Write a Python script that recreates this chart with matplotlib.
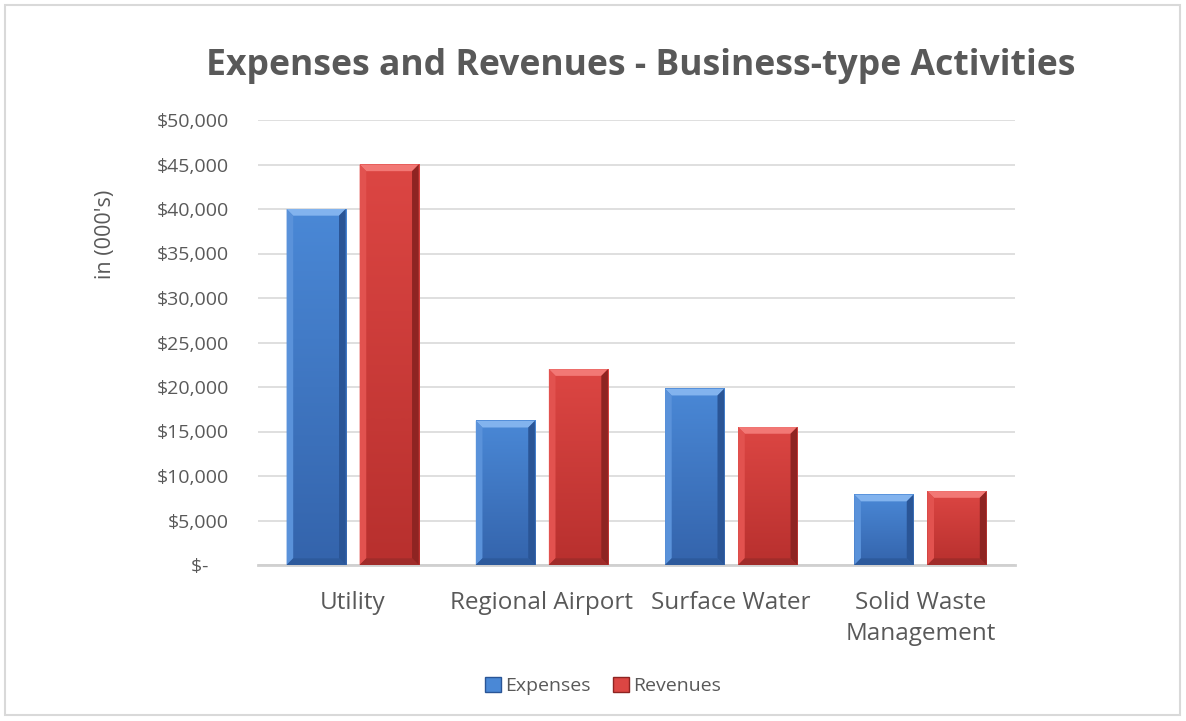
import numpy as np
import matplotlib
import matplotlib.pyplot as plt
from matplotlib.patches import Polygon, Rectangle, Patch
from matplotlib.colors import LinearSegmentedColormap
from matplotlib.ticker import FuncFormatter
matplotlib.use('Agg')

plt.rcParams['font.family'] = ['Open Sans', 'DejaVu Sans']

categories = ['Utility', 'Regional Airport', 'Surface Water', 'Solid Waste\nManagement']
expenses = [40000, 16200, 19800, 7900]
revenues = [45000, 22000, 15500, 8300]
y_ticks = [0, 5000, 10000, 15000, 20000, 25000, 30000, 35000, 40000, 45000, 50000]

TEXT = '#595959'
# face top, face bottom, top bevel, left bevel, right bevel, bottom bevel
BLUE = ['#4A88D6', '#3464AC', '#82B3EE', '#5A92DA', '#2A5596', '#2D5A9C']
RED = ['#DC4643', '#B8302E', '#F27875', '#E2524F', '#8E2422', '#A02C2A']


def money(v, pos):
    if v == 0:
        return '$-    '
    return '${:,.0f}'.format(v)


def bevel(ax, bar, shades, bx=0.035, by=750):
    x0, y0 = bar.get_x(), bar.get_y()
    x1, y1 = x0 + bar.get_width(), y0 + bar.get_height()
    ftop, fbot, top, left, right, bottom = shades
    bar.set_facecolor(fbot)
    bar.set_edgecolor('none')
    # vertical shading on the face
    cmap = LinearSegmentedColormap.from_list('face', [fbot, ftop])
    grad = np.linspace(0, 1, 64).reshape(-1, 1)
    ax.imshow(grad, cmap=cmap, origin='lower', aspect='auto', interpolation='bilinear',
              extent=(x0, x1, y0, y1), zorder=2.5)
    pieces = [
        ([(x0, y1), (x1, y1), (x1 - bx, y1 - by), (x0 + bx, y1 - by)], top),
        ([(x0, y0), (x0, y1), (x0 + bx, y1 - by), (x0 + bx, y0 + by)], left),
        ([(x1, y0), (x1, y1), (x1 - bx, y1 - by), (x1 - bx, y0 + by)], right),
        ([(x0, y0), (x1, y0), (x1 - bx, y0 + by), (x0 + bx, y0 + by)], bottom),
    ]
    for pts, c in pieces:
        ax.add_patch(Polygon(pts, closed=True, facecolor=c, edgecolor='none', zorder=3))


fig = plt.figure(figsize=(11.86, 7.21), dpi=100)
ax = fig.add_axes([258 / 1186, 1 - 565 / 721, 757 / 1186, 445 / 721])

x = np.arange(len(categories))
w = 0.312
gap = 0.074
b1 = ax.bar(x - (w + gap) / 2, expenses, w, label='Expenses', zorder=2)
b2 = ax.bar(x + (w + gap) / 2, revenues, w, label='Revenues', zorder=2)
for b in b1:
    bevel(ax, b, BLUE)
for b in b2:
    bevel(ax, b, RED)

ax.set_xlim(-0.5, len(categories) - 0.5)
ax.set_ylim(0, 50000)
ax.set_yticks(y_ticks)
ax.yaxis.set_major_formatter(FuncFormatter(money))
ax.set_xticks(x)
ax.set_xticklabels(categories, fontsize=17.5, color=TEXT, linespacing=1.35)
ax.tick_params(axis='y', length=0, pad=21, labelsize=14, labelcolor=TEXT)
ax.tick_params(axis='x', length=0, pad=19)
ax.grid(axis='y', color='#D9D9D9', linewidth=1.2, zorder=0)
ax.set_axisbelow(True)
for s in ['top', 'right', 'left']:
    ax.spines[s].set_visible(False)
ax.spines['bottom'].set_color('#D0D0D0')
ax.spines['bottom'].set_linewidth(2)
ax.spines['bottom'].set_zorder(1)

fig.text(106 / 1186, 1 - 234 / 721, "in (000's)", rotation=90, ha='center', va='center',
         fontsize=15.5, color=TEXT)
fig.text(641 / 1186, 1 - 75 / 721, 'Expenses and Revenues - Business-type Activities',
         ha='center', va='baseline', fontsize=25.6, fontweight='bold', color=TEXT)

handles = [Patch(facecolor=BLUE[0], edgecolor=BLUE[4]), Patch(facecolor=RED[0], edgecolor=RED[4])]
fig.legend(handles, ['Expenses', 'Revenues'], loc='center', ncol=2, frameon=False,
           bbox_to_anchor=(603 / 1186, 1 - 686 / 721), fontsize=14, labelcolor=TEXT,
           handlelength=0.8, handleheight=0.8, handletextpad=0.2, columnspacing=1.2)

fig.patches.append(Rectangle((5 / 1186, 6 / 721), 1175 / 1186, 710 / 721, transform=fig.transFigure,
                             fill=False, edgecolor='#D9D9D9', linewidth=1.5))

fig.savefig('out.png', dpi=100)
